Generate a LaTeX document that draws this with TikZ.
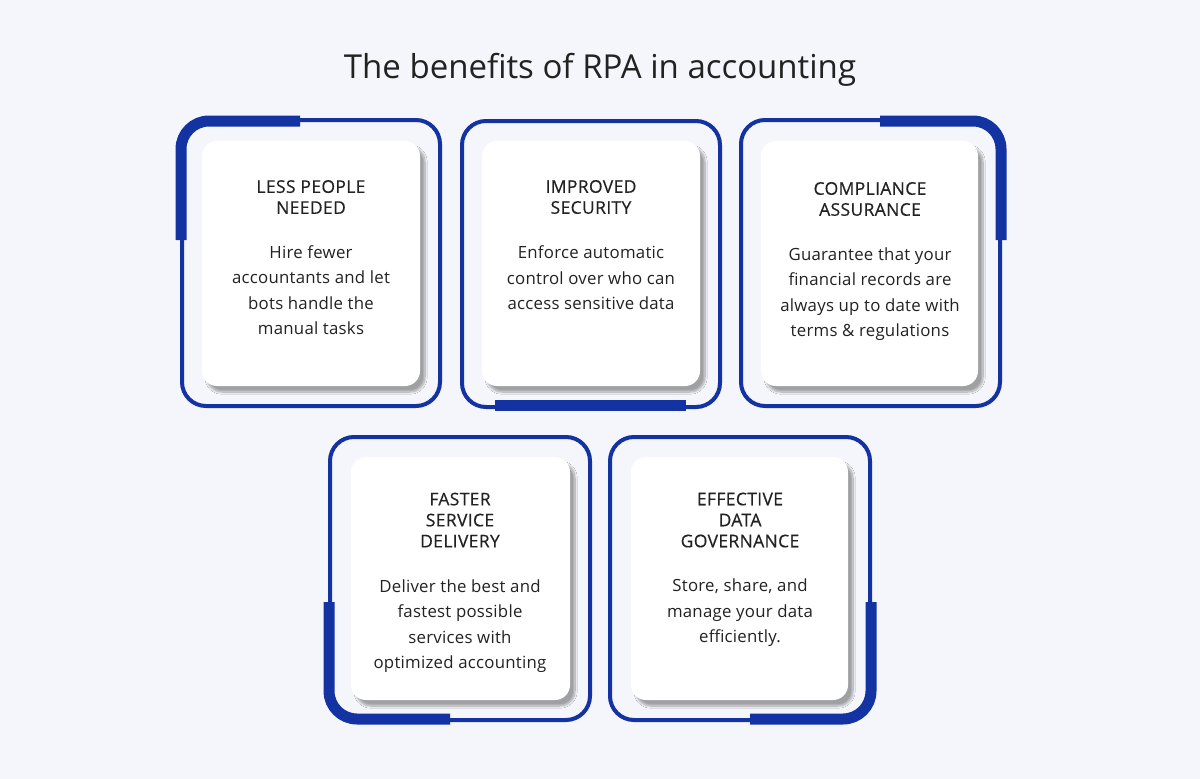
\documentclass[tikz,border=0pt]{standalone}
\usepackage{fontspec}
\setmainfont{Open Sans}
\usetikzlibrary{shadows.blur}
\definecolor{bg}{HTML}{F5F6FB}
\definecolor{rblue}{HTML}{1433A3}
\definecolor{txt}{HTML}{222222}
\tikzset{
 frame/.style={draw=rblue,line width=4pt,rounded corners=24pt},
 accent/.style={draw=rblue,line width=11pt,rounded corners=28pt},
 card/.style={fill=white,rounded corners=15pt,blur shadow={shadow xshift=5pt,shadow yshift=-6pt,shadow blur steps=12,shadow opacity=35}},
 head/.style={text=txt,align=center,font=\fontsize{17.5}{21}\selectfont\addfontfeature{LetterSpace=2,FakeBold=0.4}},
 body/.style={text=txt,align=center,font=\fontsize{16.8}{25.5}\selectfont\addfontfeature{LetterSpace=1.5}},
}
\begin{document}
\begin{tikzpicture}[x=1pt,y=-1pt]
\fill[bg] (0,0) rectangle (1200,779);
\useasboundingbox (0,0) rectangle (1200,779);
\node[text=txt,font=\fontsize{33}{40}\selectfont] (title) at (600,70) {The benefits of RPA in accounting};
% card 1
\draw[frame] (182,120) rectangle (440,406);
\draw[accent] (300,121) -- (181,121) -- (181,240);
\path[card] (202,141) rectangle (420,386);
\node[head] (h1) at (311,197) {LESS PEOPLE\\NEEDED};
\node[body] (b1) at (311,290) {Hire fewer\\accountants and let\\bots handle the\\manual tasks};
% card 2
\draw[frame] (462,121) rectangle (720,407);
\draw[line width=11pt,draw=rblue] (495,405) -- (686,405);
\path[card] (482,141) rectangle (700,386);
\node[head] (h2) at (591,197) {IMPROVED\\SECURITY};
\node[body] (b2) at (591,278) {Enforce automatic\\control over who can\\access sensitive data};
% card 3
\draw[frame] (741,120) rectangle (1000,406);
\draw[accent] (880,121) -- (1001,121) -- (1001,240);
\path[card] (761,141) rectangle (978,386);
\node[head] (h3) at (870,199) {COMPLIANCE\\ASSURANCE};
\node[body] (b3) at (870,294) {Guarantee that your\\financial records are\\always up to date with\\terms \& regulations};
% card 4
\draw[frame] (330,437) rectangle (590,720);
\draw[accent] (329,602) -- (329,719) -- (450,719);
\path[card] (351,457) rectangle (570,700);
\node[head] (h4) at (460,520) {FASTER\\SERVICE\\DELIVERY};
\node[body] (b4) at (460,626) {Deliver the best and\\fastest possible\\services with\\optimized accounting};
% card 5
\draw[frame] (610,437) rectangle (870,720);
\draw[accent] (871,602) -- (871,719) -- (750,719);
\path[card] (631,457) rectangle (848,700);
\node[head] (h5) at (740,520) {EFFECTIVE\\DATA\\GOVERNANCE};
\node[body] (b5) at (740,613) {Store, share, and\\manage your data\\efficiently.};
\end{tikzpicture}
\end{document}
